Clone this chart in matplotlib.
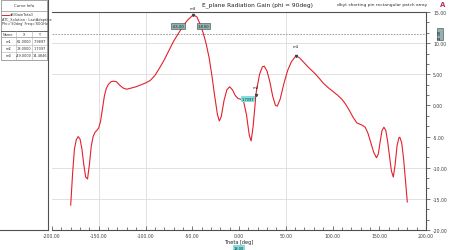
import matplotlib
matplotlib.use('Agg')
import matplotlib.pyplot as plt
from matplotlib.lines import Line2D
from matplotlib.patches import Rectangle
from matplotlib.ticker import MultipleLocator, FormatStrFormatter

# gain curve (theta in deg, gain in dB)
theta = [-180, -178, -176, -174, -172, -170, -168, -166, -164, -162, -160, -158,
         -156, -154, -152, -150, -148, -146, -144, -142, -140, -137, -134, -131,
         -128, -124, -120, -115, -110, -105, -100, -95, -90, -85, -80, -75, -70,
         -65, -60, -55, -50, -48, -45, -42, -38, -35, -32, -29, -26, -23, -21,
         -19, -16, -13, -10, -7, -4, -1, 2, 5, 8, 11, 13, 15, 17, 18, 19, 22, 25,
         27, 30, 33, 36, 39, 41, 44, 48, 52, 56, 61, 65, 70, 75, 80, 85, 90, 95,
         100, 105, 110, 114, 118, 122, 126, 129, 132, 135, 138, 141, 144, 147,
         149, 151, 153, 155, 157, 159, 161, 163, 165, 167, 169, 171, 172, 174,
         176, 178, 180]
gain = [-16.0, -11.0, -7.0, -5.5, -5.0, -5.4, -7.0, -9.5, -11.5, -11.8, -9.5, -6.5,
        -5.0, -4.3, -4.0, -3.6, -2.5, -0.5, 1.5, 2.7, 3.3, 3.8, 3.9, 3.8,
        3.3, 2.8, 2.6, 2.8, 3.0, 3.3, 3.6, 4.0, 4.8, 6.0, 7.3, 8.8, 10.3,
        11.5, 12.7, 13.7, 14.4, 14.48, 14.2, 13.2, 11.5, 9.8, 7.7, 4.8, 1.5, -1.5, -2.5,
        -1.8, 0.8, 2.5, 3.0, 2.5, 1.6, 1.1, 1.0, 0.6, -1.5, -4.8, -5.7, -3.5, -0.2, 1.7, 2.6, 5.0, 6.2,
        6.3, 5.5, 3.8, 1.5, 0.0, -0.1, 1.0, 3.5, 5.6, 7.0, 7.99, 7.6, 6.8, 6.0, 5.3, 4.5, 3.6, 2.9,
        2.3, 1.7, 1.0, 0.2, -0.8, -1.9, -2.8, -3.0, -3.2, -3.5, -4.5, -6.0, -7.5, -8.4,
        -7.8, -5.8, -4.0, -3.5, -4.0, -5.8, -8.2, -10.5, -11.5, -9.5, -6.5, -5.2, -5.1, -6.0,
        -8.5, -12.0, -15.5]

marker_names = ['m1', 'm2', 'm3']
marker_x = [61.0, 18.0, -49.0]
marker_y = [7.9897, 1.7097, 14.4846]
level_3db = 11.48
cross_x = [-65.0, -38.0]

W, H = 449, 251
fig = plt.figure(figsize=(W / 100, H / 100), dpi=100)
fig.patch.set_facecolor('white')


def fx(px):
    return px / W


def fy(py):
    return 1 - py / H


ax = fig.add_axes([fx(52), fy(231), fx(426) - fx(52), fy(13) - fy(231)])
ax.set_xlim(-200, 200)
ax.set_ylim(-20, 15)

for v in [10, 5, -10, -15]:
    ax.axhline(v, color='#dcdcdc', lw=0.6, zorder=0)
for v in [-150, -100, 50]:
    ax.axvline(v, color='#dcdcdc', lw=0.6, zorder=0)

ax.axhline(level_3db, color='#909090', lw=0.6, ls=(0, (2, 1.5)), zorder=1)
ax.plot(theta, gain, color='#e3202c', lw=0.8, zorder=3)

for s in ['left']:
    ax.spines[s].set_visible(False)
for s in ['top', 'right', 'bottom']:
    ax.spines[s].set_color('#505050')
    ax.spines[s].set_linewidth(0.8)

ax.yaxis.tick_right()
ax.xaxis.set_major_locator(MultipleLocator(50))
ax.xaxis.set_minor_locator(MultipleLocator(10))
ax.yaxis.set_major_locator(MultipleLocator(5))
ax.yaxis.set_minor_locator(MultipleLocator(5 / 3))
ax.xaxis.set_major_formatter(FormatStrFormatter('%.2f'))
ax.yaxis.set_major_formatter(FormatStrFormatter('%.2f'))
ax.tick_params(axis='x', which='both', direction='in', labelsize=3.3, pad=2,
               colors='#404040', width=0.5)
ax.tick_params(axis='x', which='major', length=3)
ax.tick_params(axis='x', which='minor', length=2)
ax.tick_params(axis='y', which='both', direction='out', labelsize=3.3, pad=2,
               colors='#404040', width=0.5)
ax.tick_params(axis='y', which='major', length=3)
ax.tick_params(axis='y', which='minor', length=2)
ax.set_xlabel('Theta [deg]', fontsize=3.6, labelpad=1, color='#202020')

# marker labels on the curve
offsets = [(0, 1.2), (0.5, 1.0), (0, 0.9)]
for n, mx, my, (dx, dy) in zip(marker_names, marker_x, marker_y, offsets):
    ax.plot([mx], [my], marker='v', ms=1.5, color='#404040', zorder=4)
    ax.text(mx + dx, my + dy, n, fontsize=2.8, ha='center', va='bottom', color='#202020')

box_style = dict(boxstyle='square,pad=0.25', fc='#8fb3b3', ec='#404040', lw=0.4)
for cx in cross_x:
    ax.text(cx, 12.7, '%.2f' % cx, fontsize=2.6, ha='center', va='center',
            bbox=box_style, color='#202020', zorder=5)
ax.text(marker_x[1] - 8, 1.0, '%.4f' % marker_y[1], fontsize=2.6, ha='center', va='center',
        bbox=dict(boxstyle='square,pad=0.2', fc='#7fe0e0', ec='none'), color='#202020', zorder=5)

fig.text(fx(440), fy(35), '%.2f' % level_3db, fontsize=2.6, rotation=90, ha='center',
         va='center', bbox=box_style, color='#202020')
fig.text(fx(239), fy(249), '%.2f' % marker_x[1], fontsize=2.6, ha='center', va='center',
         bbox=dict(boxstyle='square,pad=0.2', fc='#7fe0e0', ec='none'), color='#202020')

# titles
fig.text(fx(202), fy(5), 'E_plane Radiation Gain (phi = 90deg)', fontsize=4.2,
         ha='left', va='center', color='#202020')
fig.text(fx(427), fy(5), 'dbyt shorting pin rectangular patch array', fontsize=3.2,
         ha='right', va='center', color='#303030')
fig.text(fx(443), fy(5), 'A', fontsize=5, ha='center', va='center', color='#c0305a',
         fontweight='bold')

# left info panel
def hline(y, x0=0, x1=47, c='#505050', lw=0.6):
    fig.add_artist(Line2D([fx(x0), fx(x1)], [fy(y), fy(y)], color=c, lw=lw))


def vline(x, y0, y1, c='#505050', lw=0.6):
    fig.add_artist(Line2D([fx(x), fx(x)], [fy(y0), fy(y1)], color=c, lw=lw))


vline(48, 0, 231, lw=0.8)
hline(231, 0, 48, lw=0.8)
fig.add_artist(Rectangle((fx(1), fy(61)), fx(47) - fx(1), fy(1) - fy(61),
                         fill=False, ec='#808080', lw=0.5))
hline(12, 1, 47, c='#909090', lw=0.5)
hline(32, 1, 47, lw=0.6)
hline(38, 1, 47, c='#909090', lw=0.5)
hline(46, 1, 47, c='#b0b0b0', lw=0.4)
hline(53, 1, 47, c='#b0b0b0', lw=0.4)
vline(16, 32, 61, c='#b0b0b0', lw=0.4)
vline(32, 32, 61, c='#b0b0b0', lw=0.4)

fig.text(fx(24), fy(6), 'Curve Info', fontsize=2.8, ha='center', va='center', color='#303030')
hline(15.5, 2, 9, c='#e3202c', lw=0.7)
fig.text(fx(10), fy(15.5), 'dB(GainTotal)', fontsize=2.5, ha='left', va='center', color='#303030')
fig.text(fx(2), fy(20), 'ATC_Solution : LastAdaptive', fontsize=2.5, ha='left', va='center',
         color='#303030')
fig.text(fx(2), fy(24.5), "Phi='90deg' Freq='60GHz'", fontsize=2.5, ha='left', va='center',
         color='#303030')

fig.text(fx(8), fy(35), 'Name', fontsize=2.5, ha='center', va='center', color='#303030')
fig.text(fx(24), fy(35), 'X', fontsize=2.5, ha='center', va='center', color='#303030')
fig.text(fx(39.5), fy(35), 'Y', fontsize=2.5, ha='center', va='center', color='#303030')
for i, (n, mx, my) in enumerate(zip(marker_names, marker_x, marker_y)):
    yy = 42 + 7 * i
    fig.text(fx(8), fy(yy), n, fontsize=2.5, ha='center', va='center', color='#303030')
    fig.text(fx(24), fy(yy), '%.4f' % mx, fontsize=2.5, ha='center', va='center', color='#303030')
    fig.text(fx(39.5), fy(yy), '%.4f' % my, fontsize=2.5, ha='center', va='center', color='#303030')

fig.savefig('out.png', dpi=100)
